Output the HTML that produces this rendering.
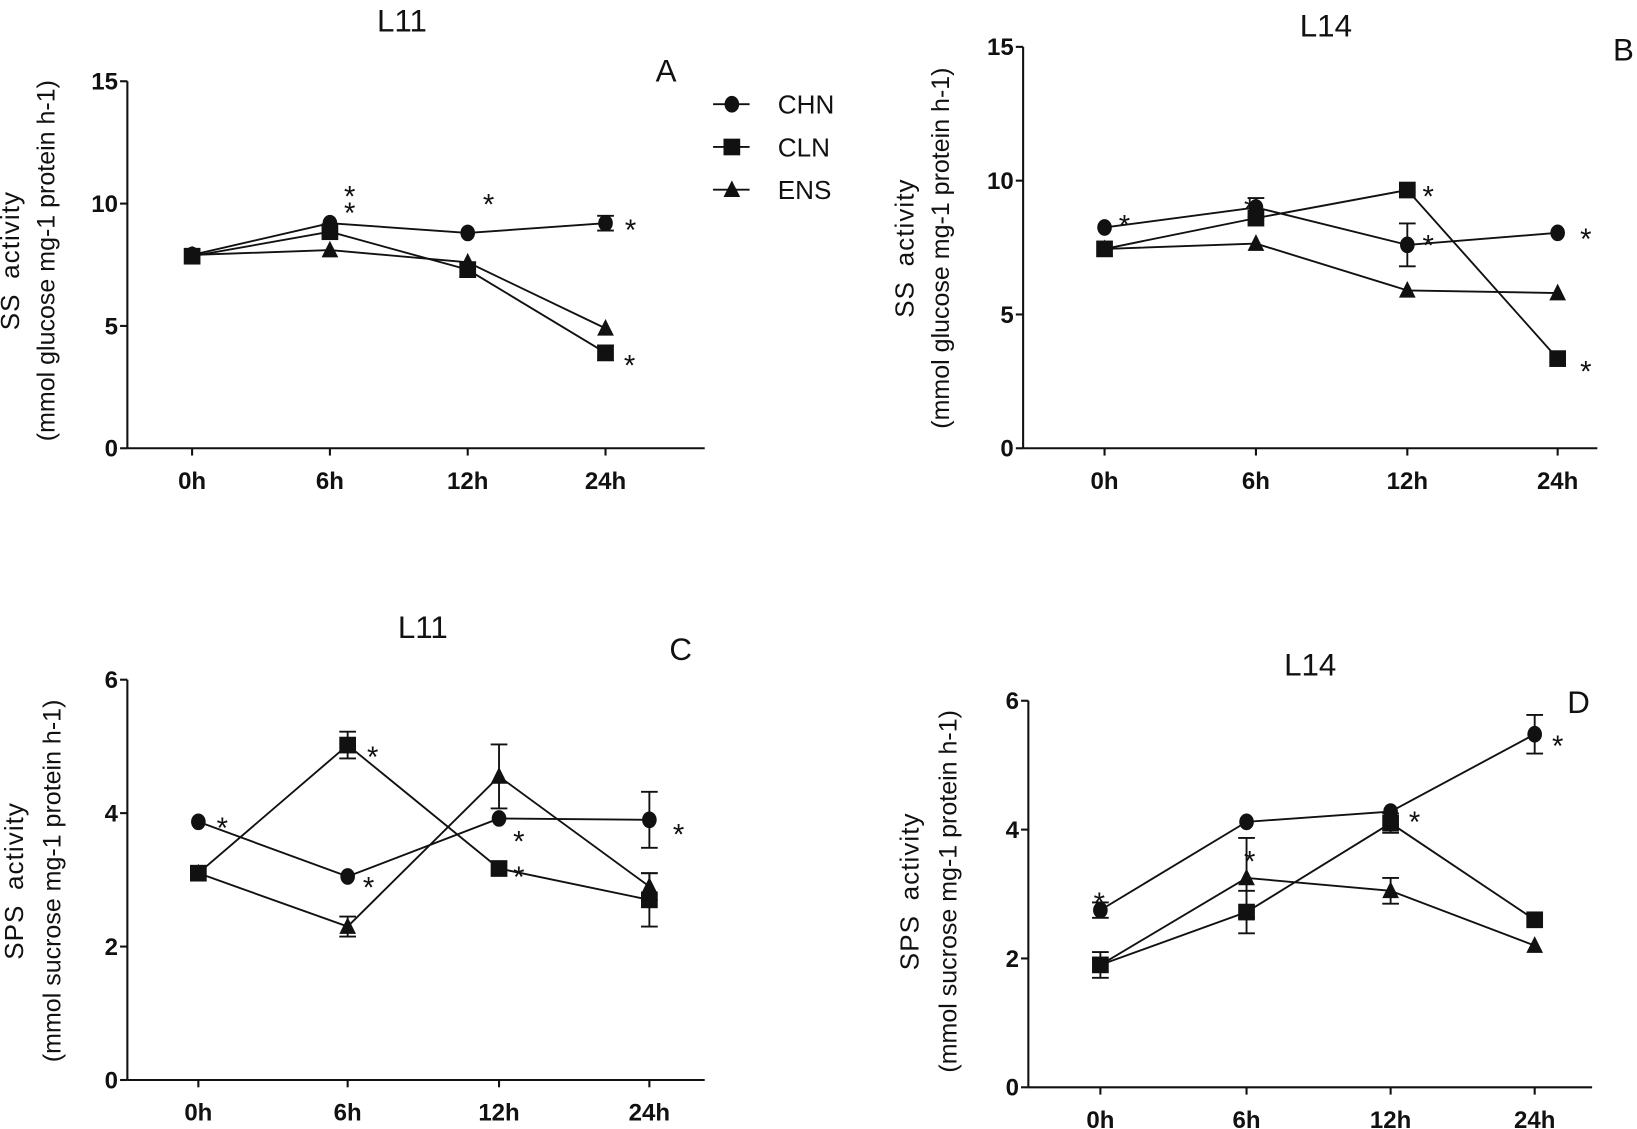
<!DOCTYPE html>
<html><head><meta charset="utf-8"><style>
html,body{margin:0;padding:0;background:#fff}
svg{display:block}
text{font-family:"Liberation Sans",sans-serif;fill:#111}
.t{font-weight:bold;font-size:23px}
</style></head><body>
<svg id="s" width="1637" height="1129" viewBox="0 0 1568 1083" preserveAspectRatio="none" xmlns="http://www.w3.org/2000/svg"></svg>
<script>
var s=document.getElementById('s'),h='';
function P(p){
 var ax=p.ax,y0=p.y0,u=p.u,xs=p.xs;
 h+='<line x1="'+ax+'" y1="'+(y0-p.max*u)+'" x2="'+ax+'" y2="'+y0+'" stroke="#111" stroke-width="2"/>';
 h+='<line x1="'+ax+'" y1="'+y0+'" x2="'+p.xe+'" y2="'+y0+'" stroke="#111" stroke-width="2"/>';
 p.yt.forEach(function(v){var y=y0-v*u;h+='<line x1="'+(ax-7)+'" y1="'+y+'" x2="'+ax+'" y2="'+y+'" stroke="#111" stroke-width="2"/><text class="t" x="'+(ax-9)+'" y="'+(y+8)+'" text-anchor="end">'+v+'</text>';});
 ['0h','6h','12h','24h'].forEach(function(l,i){h+='<line x1="'+xs[i]+'" y1="'+y0+'" x2="'+xs[i]+'" y2="'+(y0+7)+'" stroke="#111" stroke-width="2"/><text class="t" x="'+xs[i]+'" y="'+(y0+39)+'" text-anchor="middle">'+l+'</text>';});
 h+='<text x="'+p.tt[0]+'" y="'+p.tt[1]+'" font-size="30" text-anchor="middle">'+p.title+'</text>';
 h+='<text x="'+p.lt[0]+'" y="'+p.lt[1]+'" font-size="30" text-anchor="middle">'+p.letter+'</text>';
 var cy=p.yl[2];
 h+='<text transform="translate('+p.yl[0]+','+cy+') rotate(-90)" font-size="25" letter-spacing="1" word-spacing="6" text-anchor="middle">'+p.y1+'</text>';
 h+='<text transform="translate('+p.yl[1]+','+cy+') rotate(-90)" font-size="24" text-anchor="middle">'+p.y2+'</text>';
 p.series.forEach(function(se,k){
  var pts=se.v.map(function(v,i){return [xs[i],y0-v*u];});
  h+='<polyline fill="none" stroke="#111" stroke-width="1.8" points="'+pts.map(function(q){return q.join(',')}).join(' ')+'"/>';
  pts.forEach(function(q,i){
   var e=se.e?se.e[i]:0;
   if(e){var a=q[1]-e*u,b=q[1]+e*u;h+='<line x1="'+q[0]+'" y1="'+a+'" x2="'+q[0]+'" y2="'+b+'" stroke="#111" stroke-width="1.8"/><line x1="'+(q[0]-8)+'" y1="'+a+'" x2="'+(q[0]+8)+'" y2="'+a+'" stroke="#111" stroke-width="1.8"/><line x1="'+(q[0]-8)+'" y1="'+b+'" x2="'+(q[0]+8)+'" y2="'+b+'" stroke="#111" stroke-width="1.8"/>';}
   h+=M(k,q[0],q[1]);
  });
 });
 p.st.forEach(function(q){h+='<text x="'+q[0]+'" y="'+(q[1]+20)+'" font-size="28" text-anchor="middle">*</text>';});
}
function M(k,x,y){
 if(k==0)return '<ellipse cx="'+x+'" cy="'+y+'" rx="7" ry="8" fill="#111"/>';
 if(k==1)return '<rect x="'+(x-8)+'" y="'+(y-8)+'" width="16" height="16" fill="#111"/>';
 return '<polygon points="'+x+','+(y-9)+' '+(x+8)+','+(y+7)+' '+(x-8)+','+(y+7)+'" fill="#111"/>';
}
P({ax:122,y0:430,u:23.47,max:15,xe:675,xs:[184,316,448,580],yt:[0,5,10,15],title:'L11',tt:[385,30],letter:'A',lt:[638,78],
 yl:[18,52,250],y1:'SS activity',y2:'(mmol glucose mg-1 protein h-1)',
 series:[{v:[7.9,9.2,8.8,9.2],e:[0,0,0,0.3]},{v:[7.85,8.85,7.3,3.9],e:[0,0,0.3,0.3]},{v:[7.9,8.1,7.6,4.9]}],
 st:[[335,178],[335,194],[468,186],[604,210],[603,340]]});
P({ax:980,y0:430,u:25.67,max:15,xe:1530,xs:[1058,1203,1348,1492],yt:[0,5,10,15],title:'L14',tt:[1270,35],letter:'B',lt:[1555,58],
 yl:[875,909,238],y1:'SS activity',y2:'(mmol glucose mg-1 protein h-1)',
 series:[{v:[8.25,9.0,7.6,8.05],e:[0,0.35,0.8,0]},{v:[7.45,8.6,9.65,3.35]},{v:[7.45,7.65,5.9,5.8]}],
 st:[[1077,206],[1197,190],[1368,178],[1368,225],[1519,219],[1519,346]]});
P({ax:122,y0:1036,u:64,max:6,xe:675,xs:[190,333,478,622],yt:[0,2,4,6],title:'L11',tt:[405,612],letter:'C',lt:[652,633],
 yl:[22,58,845],y1:'SPS activity',y2:'(mmol sucrose mg-1 protein h-1)',
 series:[{v:[3.87,3.05,3.92,3.9],e:[0,0,0,0.42]},{v:[3.1,5.02,3.17,2.7],e:[0,0.2,0,0.4]},{v:[3.1,2.3,4.55,2.9],e:[0,0.15,0.48,0.2]}],
 st:[[213,784],[353,841],[497,797],[650,790],[357,716],[497,831]]});
P({ax:985,y0:1043,u:61.8,max:6,xe:1525,xs:[1054,1194,1332,1470],yt:[0,2,4,6],title:'L14',tt:[1255,648],letter:'D',lt:[1512,684],
 yl:[880,916,855],y1:'SPS activity',y2:'(mmol sucrose mg-1 protein h-1)',
 series:[{v:[2.75,4.12,4.28,5.48],e:[0.12,0,0,0.3]},{v:[1.9,2.72,4.1,2.6],e:[0.2,0.33,0.15,0]},{v:[1.9,3.25,3.05,2.2],e:[0,0.62,0.2,0]}],
 st:[[1053,856],[1197,816],[1355,778],[1492,705]]});
['CHN','CLN','ENS'].forEach(function(n,k){var y=100+41*k;h+='<line x1="683" y1="'+y+'" x2="718" y2="'+y+'" stroke="#111" stroke-width="1.8"/>'+M(k,701,y)+'<text x="745" y="'+(y+9)+'" font-size="25">'+n+'</text>';});
s.innerHTML=h;
</script>
</body></html>
